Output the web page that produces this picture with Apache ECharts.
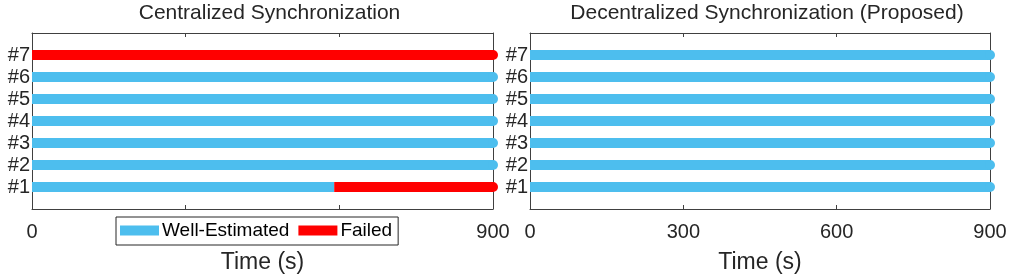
<!DOCTYPE html>
<html>
<head>
<meta charset="utf-8">
<script src="https://cdn.jsdelivr.net/npm/echarts@6/dist/echarts.min.js"></script>
<style>
html,body{margin:0;padding:0;background:#fff;}
#chart{width:1013px;height:277px;}
</style>
</head>
<body>
<div id="chart"></div>
<script>
// ---- data ----
const rowLabels = ['#1', '#2', '#3', '#4', '#5', '#6', '#7'];
const timeTicks = [0, 300, 600, 900];
const endTime = 900;
// time (s) at which each row switches to "Failed" (null = never fails)
const centralizedFailStart = [590, null, null, null, null, null, 0];
const decentralizedFailStart = [null, null, null, null, null, null, null];
const legendNames = ['Well-Estimated', 'Failed'];
const panelTitles = ['Centralized Synchronization', 'Decentralized Synchronization (Proposed)'];
const xAxisName = 'Time (s)';

// ---- styles ----
const COLORS = ['#4DBEEE', '#FF0000'];
const TXT = '#262626';
const AX = '#404040';
const FONT = 'Liberation Sans, Arial, Helvetica, sans-serif';
const LW = 10;

const grids = [
  { left: 32, width: 461, top: 33, height: 176, outerBoundsMode: 'none', containLabel: false },
  { left: 530, width: 460, top: 33, height: 176, outerBoundsMode: 'none', containLabel: false }
];

const xAxes = [], yAxes = [], series = [], titles = [];
const panels = [centralizedFailStart, decentralizedFailStart];

panels.forEach((failStart, p) => {
  const g = grids[p];
  titles.push({
    text: panelTitles[p],
    left: g.left + g.width / 2 + 2,
    top: -2,
    textAlign: 'center',
    textStyle: { fontFamily: FONT, fontSize: 21, fontWeight: 'normal', color: TXT }
  });
  // bottom x axis
  xAxes.push({
    type: 'value', gridIndex: p, position: 'bottom',
    min: timeTicks[0], max: timeTicks[timeTicks.length - 1], interval: timeTicks[1] - timeTicks[0],
    name: xAxisName, nameLocation: 'middle', nameGap: 42,
    nameTextStyle: { fontFamily: FONT, fontSize: 23, color: TXT },
    axisLine: { show: true, onZero: false, lineStyle: { color: AX, width: 1 } },
    axisTick: { show: true, inside: true, length: 4, lineStyle: { color: AX } },
    splitLine: { show: false },
    axisLabel: {
      fontFamily: FONT, fontSize: 20, color: TXT, margin: 13,
      formatter: v => (p === 0 && v !== timeTicks[0] && v !== timeTicks[timeTicks.length - 1]) ? '' : String(v)
    }
  });
  // top x axis (box)
  xAxes.push({
    type: 'value', gridIndex: p, position: 'top',
    min: timeTicks[0], max: timeTicks[timeTicks.length - 1], interval: timeTicks[1] - timeTicks[0],
    axisLine: { show: true, onZero: false, lineStyle: { color: AX, width: 1 } },
    axisTick: { show: true, inside: true, length: 4, lineStyle: { color: AX } },
    splitLine: { show: false },
    axisLabel: { show: false }
  });
  // left y axis
  yAxes.push({
    type: 'value', gridIndex: p, position: 'left',
    min: 0, max: rowLabels.length + 1, interval: 1,
    axisLine: { show: true, onZero: false, lineStyle: { color: AX, width: 1 } },
    axisTick: { show: false },
    splitLine: { show: false },
    axisLabel: {
      fontFamily: FONT, fontSize: 20, color: TXT, margin: 2,
      formatter: v => (v >= 1 && v <= rowLabels.length) ? rowLabels[v - 1] : ''
    }
  });
  // right y axis (box)
  yAxes.push({
    type: 'value', gridIndex: p, position: 'right',
    min: 0, max: rowLabels.length + 1, interval: 1,
    axisLine: { show: true, onZero: false, lineStyle: { color: AX, width: 1 } },
    axisTick: { show: false },
    splitLine: { show: false },
    axisLabel: { show: false }
  });

  failStart.forEach((fs, i) => {
    const y = i + 1;
    let segs;
    if (fs === null) segs = [[0, endTime, 0]];
    else if (fs > 0) segs = [[0, fs, 0], [fs, endTime, 1]];
    else segs = [[0, endTime, 1]];
    segs.forEach((s, k) => {
      const isLast = k === segs.length - 1;
      series.push({
        type: 'line',
        name: legendNames[s[2]],
        xAxisIndex: p * 2, yAxisIndex: p * 2,
        clip: false,
        symbol: 'circle', symbolSize: LW,
        showSymbol: true,
        silent: true,
        z: 3 + k,
        lineStyle: { color: COLORS[s[2]], width: LW, cap: 'butt' },
        itemStyle: { color: COLORS[s[2]], borderWidth: 0 },
        data: [
          { value: [s[0], y], symbol: 'none' },
          { value: [s[1], y], symbol: isLast ? 'circle' : 'none' }
        ]
      });
    });
  });
});

const chart = echarts.init(document.getElementById('chart'), null, { renderer: 'canvas' });
chart.setOption({
  animation: false,
  backgroundColor: '#fff',
  title: titles,
  grid: grids,
  xAxis: xAxes,
  yAxis: yAxes,
  legend: {
    left: 116, top: 217,
    orient: 'horizontal',
    itemWidth: 39, itemHeight: 10, itemGap: 9,
    padding: [4, 6, 5, 4],
    backgroundColor: '#fff',
    borderColor: TXT, borderWidth: 1,
    selectedMode: false,
    z: 10,
    textStyle: { fontFamily: FONT, fontSize: 19, color: '#000', padding: [0, 0, 0, -2] },
    data: legendNames.map((n, i) => ({ name: n, icon: 'rect', itemStyle: { color: COLORS[i] } }))
  },
  series: series
});
</script>
</body>
</html>
